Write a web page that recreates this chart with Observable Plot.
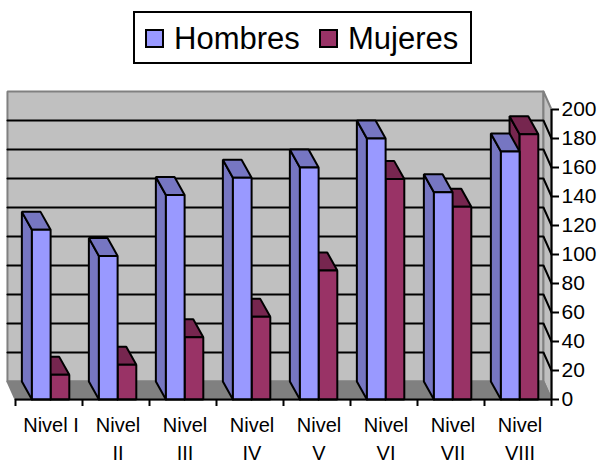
<!DOCTYPE html>
<html>
<head>
<meta charset="utf-8">
<script src="https://cdn.jsdelivr.net/npm/d3@7"></script>
<script src="https://cdn.jsdelivr.net/npm/@observablehq/plot@0.6"></script>
<style>
html,body{margin:0;padding:0;background:#fff;overflow:hidden}
#wrap{width:599px;height:461px;position:relative;font-family:"Liberation Sans",Arial,sans-serif}
#legend{position:absolute;left:133px;top:11px;width:335px;height:49px;border:2px solid #000;background:#fff;color:#000;font-size:31px;line-height:51px}
#legend .sw{position:absolute;top:16px;width:15px;height:15px;border:2px solid #000}
#legend .lb{position:absolute;top:0;white-space:nowrap}
#chart{position:absolute;left:0;top:80px}
svg{display:block}
</style>
</head>
<body>
<div id="wrap">
<div id="legend"></div>
<div id="chart"></div>
</div>
<script>
const categories = ["Nivel I","Nivel\nII","Nivel\nIII","Nivel\nIV","Nivel\nV","Nivel\nVI","Nivel\nVII","Nivel\nVIII"];
const hombres = [117, 99, 141, 153, 160, 180, 143, 171];
const mujeres = [17, 24, 43, 57, 89, 152, 133, 183];
const yTicks = [0,20,40,60,80,100,120,140,160,180,200];
const seriesNames = ["Hombres","Mujeres"];
const frontColors = ["#9999FF","#993366"];
const sideColors = ["#7676C2","#76264F"];

const wallDx = 0.12, barDx = 0.15, depthY = 12.4;
const barStart = 0.245, barW = 0.279;
const yMax = 200;
const n = categories.length;

const faces = [];
let fid = 0;
function face(list, pts, fill, stroke){
  const id = fid++;
  for (const [x,y] of [...pts, pts[0]]) list.push({id,x,y,fill,stroke});
}
// back wall, side wall, floor
face(faces,[[-wallDx,depthY],[n-wallDx,depthY],[n-wallDx,yMax+depthY],[-wallDx,yMax+depthY]],"#C0C0C0","#808080");
face(faces,[[n-wallDx,yMax+depthY],[n,yMax],[n,0],[n-wallDx,depthY]],"#C0C0C0","#808080");
face(faces,[[-wallDx,depthY],[n-wallDx,depthY],[n,0],[0,0]],"#808080","#808080");

// gridlines along back wall and side wall
const grid = [];
yTicks.filter(t => t>0 && t<yMax).forEach(t => {
  grid.push({t,x:-wallDx,y:t+depthY},{t,x:n-wallDx,y:t+depthY},{t,x:n,y:t});
});

// bars: Mujeres first so that Hombres, in the same row, hides its side
const bars = [];
categories.forEach((c,i) => {
  [1,0].forEach(s => {
    const v = s ? mujeres[i] : hombres[i];
    const x0 = i+barStart+s*barW, x1 = x0+barW;
    face(bars,[[x0,0],[x0,v],[x0-barDx,v+depthY],[x0-barDx,depthY]],sideColors[s],"#000");
    face(bars,[[x0,v],[x1,v],[x1-barDx,v+depthY],[x0-barDx,v+depthY]],sideColors[s],"#000");
    face(bars,[[x0,0],[x1,0],[x1,v],[x0,v]],frontColors[s],"#000");
  });
});

const labels = categories.map((c,i) => ({x:i+0.5,c}));

const plot = Plot.plot({
  width:599, height:381,
  marginLeft:15, marginRight:48, marginTop:29.5, marginBottom:62,
  style:{fontFamily:'"Liberation Sans",Arial,sans-serif',background:"transparent",overflow:"visible"},
  x:{domain:[0,n],range:[15,551],axis:null},
  y:{domain:[0,yMax],range:[319,29],axis:null},
  marks:[
    Plot.line(faces,{x:"x",y:"y",z:"id",fill:"fill",stroke:"stroke",strokeWidth:2,strokeLinejoin:"miter",curve:"linear"}),
    Plot.line(grid,{x:"x",y:"y",z:"t",stroke:"#000",strokeWidth:2,curve:"linear"}),
    Plot.line(bars,{x:"x",y:"y",z:"id",fill:"fill",stroke:"stroke",strokeWidth:2,strokeLinejoin:"miter",curve:"linear"}),
    Plot.ruleY([0],{x1:0,x2:n,stroke:"#000",strokeWidth:2}),
    Plot.ruleX([n],{y1:0,y2:yMax,stroke:"#000",strokeWidth:2}),
    Plot.axisX({anchor:"bottom",ticks:d3.range(n+1),tickFormat:()=>"",tickSize:7,label:null,stroke:"#000",strokeWidth:2}),
    Plot.axisY({anchor:"right",ticks:yTicks,tickSize:7,tickPadding:3,fontSize:21,stroke:"#000",strokeWidth:2,fill:"#000",tickFormat:d=>String(d),label:null}),
    Plot.text(labels,{x:"x",y:0,text:"c",dx:2,dy:12,lineAnchor:"top",lineHeight:1.42,fontSize:20,fill:"#000"})
  ]
});
document.getElementById("chart").appendChild(plot);

const legend = document.getElementById("legend");
const swX = [10,184], lbX = [39,213];
seriesNames.forEach((name,i) => {
  const sw = document.createElement("div");
  sw.className = "sw"; sw.style.left = swX[i]+"px"; sw.style.background = frontColors[i];
  const lb = document.createElement("div");
  lb.className = "lb"; lb.style.left = lbX[i]+"px"; lb.textContent = name;
  legend.append(sw,lb);
});
</script>
</body>
</html>
